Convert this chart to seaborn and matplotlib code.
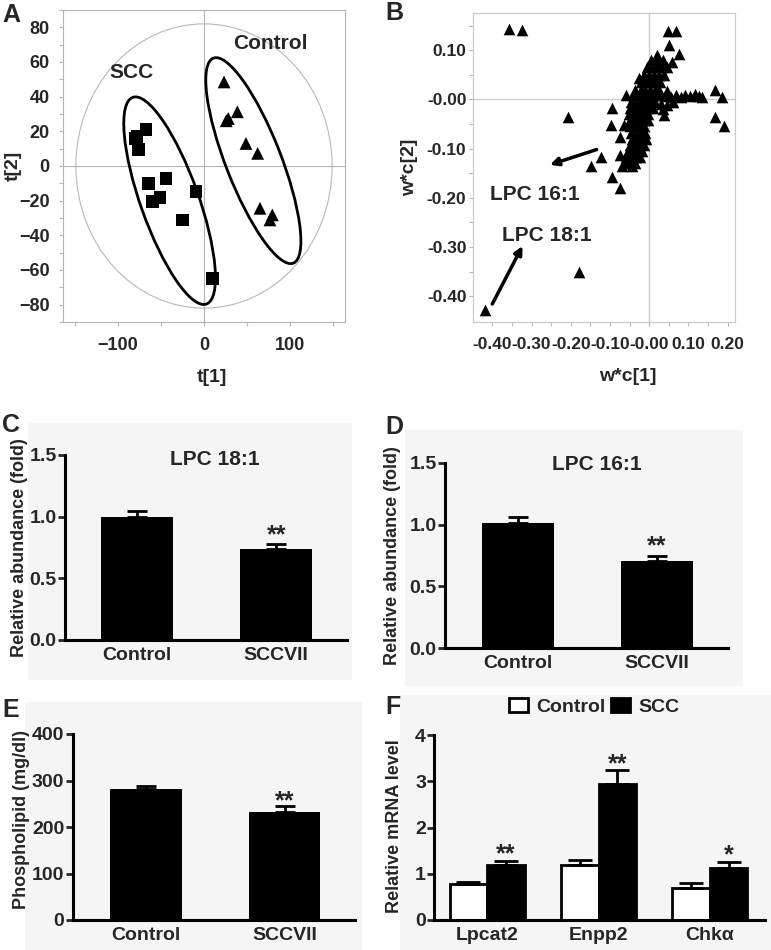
import numpy as np
import pandas as pd
import seaborn as sns
import matplotlib
matplotlib.use('Agg')
import matplotlib.pyplot as plt
from matplotlib.patches import Ellipse, Rectangle, Patch
from matplotlib.transforms import ScaledTranslation
from matplotlib.ticker import FixedLocator, FixedFormatter, MultipleLocator

# ---------------- data ----------------
# A: PCA scores
scc_t1 = [-67.4, -80.2, -76.4, -64.3, -44.2, -59.7, -51.2, -9.3, -25.2, 9.7, -78.0]
scc_t2 = [21.1, 15.9, 9.6, -10.0, -7.1, -20.5, -18.0, -14.8, -31.1, -64.7, 17.0]
ctrl_t1 = [23.3, 38.8, 28.3, 25.8, 48.8, 62.4, 65.1, 79.5, 76.7]
ctrl_t2 = [48.5, 31.3, 27.4, 26.1, 13.0, 7.3, -24.4, -28.2, -31.1]

# B: loadings w*c
b_x = [
    -0.357, -0.325, -0.207, -0.180, -0.418,
    -0.148, -0.122, -0.095, -0.074,
    -0.095, -0.097, -0.060, -0.065, -0.074, -0.074, -0.070, -0.044, -0.027,
    0.049, 0.068, 0.051, 0.075, 0.058, 0.020,
    0.168, 0.185, 0.168, 0.191, 0.037,
    # dense band
    0.005, 0.020, 0.035,
    -0.005, 0.008, 0.020, 0.032, 0.045,
    -0.012, 0.000, 0.012, 0.025, 0.037,
    -0.020, -0.008, 0.004, 0.016, 0.028,
    -0.035, -0.022, -0.010, 0.002, 0.014, 0.026,
    -0.042, -0.030, -0.018, -0.006, 0.006, 0.018, 0.030,
    -0.045, -0.033, -0.021, -0.009, 0.003, 0.015,
    -0.050, -0.038, -0.026, -0.014, -0.002, 0.010,
    -0.052, -0.040, -0.028, -0.016, -0.004,
    -0.050, -0.038, -0.026, -0.014, -0.002,
    -0.048, -0.036, -0.024, -0.012,
    -0.046, -0.034, -0.022, -0.010,
    -0.044, -0.032, -0.020, -0.008,
    -0.050, -0.038, -0.026, -0.014,
    -0.055, -0.042, -0.030, -0.018,
    -0.058, -0.046, -0.034, -0.024,
    -0.060, -0.048, -0.036,
    # horizontal branch
    0.042, 0.055, 0.068, 0.080, 0.092, 0.104, 0.116, 0.128, 0.135,
    0.030, 0.045, 0.060, 0.035, 0.045,
]
b_y = [
    0.144, 0.141, -0.035, -0.350, -0.428,
    -0.135, -0.117, -0.157, -0.181,
    -0.018, -0.052, 0.009, -0.052, -0.076, -0.113, -0.135, -0.135, 0.043,
    0.138, 0.138, 0.110, 0.092, 0.077, 0.090,
    0.020, 0.005, -0.035, -0.054, -0.032,
    0.080, 0.080, 0.080,
    0.065, 0.065, 0.065, 0.065, 0.065,
    0.050, 0.050, 0.050, 0.050, 0.050,
    0.035, 0.035, 0.035, 0.035, 0.035,
    0.020, 0.020, 0.020, 0.020, 0.020, 0.020,
    0.008, 0.008, 0.008, 0.008, 0.008, 0.008, 0.008,
    -0.005, -0.005, -0.005, -0.005, -0.005, -0.005,
    -0.018, -0.018, -0.018, -0.018, -0.018, -0.018,
    -0.030, -0.030, -0.030, -0.030, -0.030,
    -0.042, -0.042, -0.042, -0.042, -0.042,
    -0.055, -0.055, -0.055, -0.055,
    -0.068, -0.068, -0.068, -0.068,
    -0.080, -0.080, -0.080, -0.080,
    -0.093, -0.093, -0.093, -0.093,
    -0.105, -0.105, -0.105, -0.105,
    -0.118, -0.118, -0.118, -0.118,
    -0.130, -0.130, -0.130,
    0.006, 0.004, 0.008, 0.005, 0.009, 0.006, 0.010, 0.007, 0.004,
    -0.010, -0.012, -0.005, -0.020, 0.018,
]
b_xticks = [-0.4, -0.3, -0.2, -0.1, 0.0, 0.1, 0.2]
b_xlabels = ['-0.40', '-0.30', '-0.20', '-0.10', '-0.00', '0.10', '0.20']
b_yticks = [0.1, 0.0, -0.1, -0.2, -0.3, -0.4]
b_ylabels = ['0.10', '-0.00', '-0.10', '-0.20', '-0.30', '-0.40']

# C, D, E: two-group bars
groups = ['Control', 'SCCVII']
lpc181_mean = [1.00, 0.735]
lpc181_sem = [0.048, 0.043]
lpc161_mean = [1.01, 0.706]
lpc161_sem = [0.054, 0.043]
phos_mean = [281.7, 232.0]
phos_sem = [7.1, 13.0]
stars_cde = ['', '**']

# F: mRNA levels
genes = ['Lpcat2', 'Enpp2', 'Chkα']
mrna_ctrl = [0.77, 1.19, 0.69]
mrna_ctrl_sem = [0.06, 0.11, 0.10]
mrna_scc = [1.19, 2.94, 1.13]
mrna_scc_sem = [0.09, 0.30, 0.13]
mrna_stars = ['**', '**', '*']

# ---------------- style ----------------
sns.set_style('white')
plt.rcParams['font.family'] = ['Liberation Sans', 'DejaVu Sans']
plt.rcParams['font.weight'] = 'bold'
plt.rcParams['axes.labelweight'] = 'bold'

W, H = 771, 950
fig = plt.figure(figsize=(W / 100, H / 100), dpi=100)


def px_axes(l, t, r, b):
    ax = fig.add_axes([l / W, 1 - b / H, (r - l) / W, (b - t) / H])
    ax.set_facecolor('none')
    return ax


# faint grey panels behind the bar charts
for (x0, y0, x1, y1) in [(28, 423, 352, 680), (405, 430, 743, 686),
                         (25, 702, 362, 950), (400, 695, 771, 950)]:
    fig.patches.append(Rectangle((x0 / W, 1 - y1 / H), (x1 - x0) / W, (y1 - y0) / H,
                                 transform=fig.transFigure, fc='#f5f5f5', ec='none', zorder=-10))

# panel letters
for letter, (lx, ly) in zip('ABCDEF', [(2, 3), (385, 1), (2, 413), (385, 415), (2, 698), (385, 695)]):
    fig.text(lx / W, 1 - ly / H, letter, fontsize=18, ha='left', va='top')

grey = '#b4b4b4'

# ---------------- A ----------------
axA = px_axes(63, 10, 345, 322)
dfA = pd.DataFrame({'t1': scc_t1 + ctrl_t1, 't2': scc_t2 + ctrl_t2,
                    'group': ['SCC'] * len(scc_t1) + ['Control'] * len(ctrl_t1)})
sns.scatterplot(data=dfA, x='t1', y='t2', style='group', markers={'SCC': 's', 'Control': '^'},
                color='black', s=85, linewidth=0, legend=False, ax=axA, zorder=3)
axA.axhline(0, color=grey, lw=0.8, zorder=1)
axA.axvline(0, color=grey, lw=0.8, zorder=1)
axA.add_patch(Ellipse((0, 0), 298, 164, fill=False, ec='#b8b8b8', lw=0.8))
for (cx, cy, a, b, ang) in [(-40, -20, 1.097, 0.29, 109.6), (57.4, 3.1, 1.10, 0.277, 111.3)]:
    axA.add_patch(Ellipse((0, 0), 2 * a, 2 * b, angle=ang, fill=False, ec='black', lw=2,
                          transform=fig.dpi_scale_trans + ScaledTranslation(cx, cy, axA.transData)))
axA.text(76.7, 70.6, 'Control', fontsize=15, ha='center', va='center')
axA.text(-84, 53.7, 'SCC', fontsize=15, ha='center', va='center')
axA.set_xlim(-164, 164)
axA.set_ylim(-90, 90)
axA.xaxis.set_major_locator(FixedLocator([-100, 0, 100]))
axA.xaxis.set_minor_locator(FixedLocator([-150, -50, 50, 150]))
axA.yaxis.set_major_locator(MultipleLocator(20))
axA.yaxis.set_minor_locator(MultipleLocator(10))
axA.tick_params(which='both', direction='out', length=3, width=0.8, color=grey, labelsize=13)
axA.tick_params(axis='x', pad=8)
axA.tick_params(axis='y', pad=6.5)
axA.tick_params(which='minor', labelleft=False, labelbottom=False)
axA.tick_params(left=True, bottom=True, which='both')
for sp in axA.spines.values():
    sp.set_color(grey)
    sp.set_linewidth(0.8)
axA.set_xlabel('t[1]', fontsize=14)
axA.set_ylabel('t[2]', fontsize=14)
axA.xaxis.set_label_coords(0.527, -0.15)
axA.yaxis.set_label_coords(-0.145, 0.5)

# ---------------- B ----------------
axB = px_axes(472.7, 13.3, 735, 321.7)
sns.scatterplot(x=b_x, y=b_y, marker='^', color='black', s=70, linewidth=0, legend=False, ax=axB, zorder=3)
axB.axhline(0, color='#cccccc', lw=1.0, zorder=1)
axB.axvline(0, color='#cccccc', lw=1.0, zorder=1)
axB.annotate('', xy=(-0.253, -0.133), xytext=(-0.134, -0.102),
             arrowprops=dict(arrowstyle='-|>', lw=2.5, color='black', mutation_scale=12, shrinkA=0, shrinkB=0))
axB.annotate('', xy=(-0.323, -0.298), xytext=(-0.400, -0.416),
             arrowprops=dict(arrowstyle='-|>', lw=2.5, color='black', mutation_scale=12, shrinkA=0, shrinkB=0))
axB.text(-0.291, -0.194, 'LPC 16:1', fontsize=15, ha='center', va='center')
axB.text(-0.261, -0.276, 'LPC 18:1', fontsize=15, ha='center', va='center')
axB.set_xlim(-0.45, 0.219)
axB.set_ylim(-0.452, 0.175)
axB.xaxis.set_major_locator(FixedLocator(b_xticks))
axB.xaxis.set_major_formatter(FixedFormatter(b_xlabels))
axB.xaxis.set_minor_locator(FixedLocator([-0.35, -0.25, -0.15, -0.05, 0.05, 0.15]))
axB.yaxis.set_major_locator(FixedLocator(b_yticks))
axB.yaxis.set_major_formatter(FixedFormatter(b_ylabels))
axB.yaxis.set_minor_locator(FixedLocator([0.15, 0.05, -0.05, -0.15, -0.25, -0.35]))
axB.tick_params(which='both', direction='out', length=3, width=0.8, color=grey, labelsize=12.5,
                left=True, bottom=True)
axB.tick_params(axis='x', pad=8)
axB.tick_params(axis='y', pad=1.5)
for sp in axB.spines.values():
    sp.set_color('#cccccc')
    sp.set_linewidth(0.9)
axB.set_xlabel('w*c[1]', fontsize=14)
axB.set_ylabel('w*c[2]', fontsize=14)
axB.xaxis.set_label_coords(0.592, -0.15)
axB.yaxis.set_label_coords(-0.209, 0.5)


def style_bar_axes(ax, ylabel, ylab_x, ylab_y):
    sns.despine(ax=ax)
    for side in ['left', 'bottom']:
        ax.spines[side].set_linewidth(2.2)
        ax.spines[side].set_color('black')
    ax.tick_params(axis='y', direction='out', length=5, width=2, labelsize=14, pad=1, left=True)
    ax.tick_params(axis='x', length=0, labelsize=14, pad=5)
    ax.set_xlabel('')
    ax.set_ylabel(ylabel, fontsize=13)
    ax.yaxis.set_label_coords(ylab_x, ylab_y)


def two_bar_panel(ax, means, sems, ylim, yticks, yticklabels, star_y, title=None, title_pos=None):
    sns.barplot(x=groups, y=means, color='black', saturation=1, width=0.516, errorbar=None,
                edgecolor='black', linewidth=0, ax=ax)
    xs = [p.get_x() + p.get_width() / 2 for p in ax.containers[0]]
    ax.errorbar(xs, means, yerr=[np.zeros(len(means)), sems], fmt='none', ecolor='black',
                elinewidth=2, capsize=7, capthick=2, zorder=1)
    for x, s in zip(xs, stars_cde):
        ax.text(x, star_y, s, ha='center', va='baseline', fontsize=18)
    ax.set_xlim(-0.52, 1.51)
    ax.set_ylim(*ylim)
    ax.set_yticks(yticks)
    ax.set_yticklabels(yticklabels)
    if title:
        ax.text(title_pos[0], title_pos[1], title, transform=ax.transAxes, ha='center', va='center',
                fontsize=15)


# ---------------- C ----------------
axC = px_axes(65, 455, 347, 640)
two_bar_panel(axC, lpc181_mean, lpc181_sem, (0, 1.5), [0, 0.5, 1.0, 1.5], ['0.0', '0.5', '1.0', '1.5'],
              0.79, 'LPC 18:1', (0.532, 0.973))
style_bar_axes(axC, 'Relative abundance (fold)', -0.131, 0.5)

# ---------------- D ----------------
axD = px_axes(445, 462.7, 728.3, 648.3)
two_bar_panel(axD, lpc161_mean, lpc161_sem, (0, 1.5), [0, 0.5, 1.0, 1.5], ['0.0', '0.5', '1.0', '1.5'],
              0.77, 'LPC 16:1', (0.535, 0.988))
style_bar_axes(axD, 'Relative abundance (fold)', -0.155, 0.5)

# ---------------- E ----------------
axE = px_axes(72.7, 734, 355, 920)
two_bar_panel(axE, phos_mean, phos_sem, (0, 400), [0, 100, 200, 300, 400],
              ['0', '100', '200', '300', '400'], 240)
axE.set_xlim(-0.527, 1.508)
style_bar_axes(axE, 'Phospholipid (mg/dl)', -0.151, 0.54)

# ---------------- F ----------------
axF = px_axes(434.3, 735, 765, 920)
dfF = pd.DataFrame({'gene': genes * 2, 'level': mrna_ctrl + mrna_scc,
                    'group': ['Control'] * 3 + ['SCC'] * 3})
sns.barplot(data=dfF, x='gene', y='level', hue='group', palette={'Control': 'white', 'SCC': 'black'},
            saturation=1, width=0.675, errorbar=None, edgecolor='black', linewidth=2, ax=axF, legend=False)
for cont, means, sems in zip(axF.containers, [mrna_ctrl, mrna_scc], [mrna_ctrl_sem, mrna_scc_sem]):
    xs = [p.get_x() + p.get_width() / 2 for p in cont]
    axF.errorbar(xs, means, yerr=[np.zeros(3), sems], fmt='none', ecolor='black',
                 elinewidth=2, capsize=8.5, capthick=2, zorder=1)
    if means is mrna_scc:
        for x, m, s, st in zip(xs, means, sems, mrna_stars):
            axF.text(x, m + s - 0.02, st, ha='center', va='baseline', fontsize=18)
axF.set_xlim(-0.476, 2.495)
axF.set_ylim(0, 4)
axF.set_yticks([0, 1, 2, 3, 4])
axF.set_yticklabels(['0', '1', '2', '3', '4'])
style_bar_axes(axF, 'Relative mRNA level', -0.095, 0.51)
handles = [Patch(facecolor='white', edgecolor='black', lw=2, label='Control'),
           Patch(facecolor='black', edgecolor='black', lw=2, label='SCC')]
axF.legend(handles=handles, loc='center', bbox_to_anchor=(0.483, 1.151), ncol=2, frameon=False,
           fontsize=14, handlelength=1.0, handleheight=0.7, handletextpad=0.4, columnspacing=0.3)

fig.savefig('out.png', dpi=100)
